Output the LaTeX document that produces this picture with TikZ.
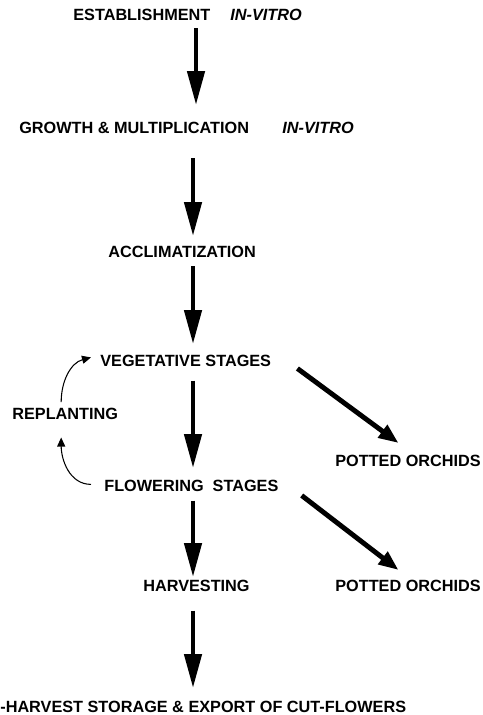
\documentclass[tikz,border=0pt]{standalone}
\usepackage{fontspec}
\setmainfont{Liberation Sans}
\usetikzlibrary{arrows.meta}

\begin{document}
\begin{tikzpicture}[
  lbl/.style={anchor=base west, inner sep=0pt, font=\fontsize{9.25}{11}\selectfont\bfseries},
  vitro/.style={lbl, font=\fontsize{9.25}{11}\selectfont\bfseries\itshape},
  bigarrow/.style={line width=2.6pt, -{Triangle[length=6.8mm, width=3.4mm]}},
  sidearrow/.style={line width=2.8pt, -{Triangle[length=4mm, width=3mm]}},
  thinarrow/.style={line width=0.6pt, -{Triangle[length=1.8mm, width=1.6mm]}}]
  \useasboundingbox (0,0) rectangle (9.64,14.3);
  % stages
  \node[lbl] (est) at (1.46,13.88) {ESTABLISHMENT};
  \node[vitro] (estv) at (4.60,13.88) {IN-VITRO};
  \node[lbl] (grow) at (0.38,11.62) {GROWTH \& MULTIPLICATION};
  \node[vitro] (growv) at (5.64,11.62) {IN-VITRO};
  \node[lbl] (accl) at (2.16,9.14) {ACCLIMATIZATION};
  \node[lbl] (veg) at (2.00,6.96) {VEGETATIVE STAGES};
  \node[lbl] (repl) at (0.24,5.90) {REPLANTING};
  \node[lbl] (flow) at (2.08,4.46) {FLOWERING\ \ STAGES};
  \node[lbl] (pot1) at (6.70,4.96) {POTTED ORCHIDS};
  \node[lbl] (harv) at (2.86,2.46) {HARVESTING};
  \node[lbl] (pot2) at (6.70,2.46) {POTTED ORCHIDS};
  \node[lbl] (post) at (0.00,0.04) {-HARVEST STORAGE \& EXPORT OF CUT-FLOWERS};
  \coordinate (top) at (3.92,0);
  \coordinate (col) at (3.86,0);
  % main line
  \draw[bigarrow, shorten <=1.4mm, shorten >=3.45mm] (est.south -| top) -- (grow.north -| top);
  \draw[bigarrow, shorten <=4.8mm, shorten >=2.05mm] (grow.south -| col) -- (accl.north -| col);
  \draw[bigarrow, shorten <=1.6mm, shorten >=2.25mm] (accl.south -| col) -- (veg.north -| col);
  \draw[bigarrow, shorten <=2.6mm, shorten >=2.45mm] (veg.south -| col) -- (flow.north -| col);
  \draw[bigarrow, shorten <=1.6mm, shorten >=0.65mm] (flow.south -| col) -- (harv.north -| col);
  \draw[bigarrow, shorten <=3.6mm, shorten >=2.65mm] (harv.south -| col) -- (post.north -| col);
  % side branches
  \draw[sidearrow] ([xshift=5.2mm,yshift=-0.2mm]veg.south east) -- ([xshift=-1.9mm,yshift=2.45mm]pot1.north);
  \draw[sidearrow] ([xshift=4.6mm,yshift=-0.6mm]flow.south east) -- ([xshift=-1.9mm,yshift=2.05mm]pot2.north);
  % replanting loop
  \draw[thinarrow] ([xshift=-0.8mm,yshift=1.25mm]repl.north) to[out=90,in=195] ([xshift=-1.8mm,yshift=0.8mm]veg.west);
  \draw[thinarrow] ([xshift=-2.6mm,yshift=0.4mm]flow.west) to[out=180,in=-90] ([xshift=-0.8mm,yshift=-3.4mm]repl.south);
\end{tikzpicture}
\end{document}
